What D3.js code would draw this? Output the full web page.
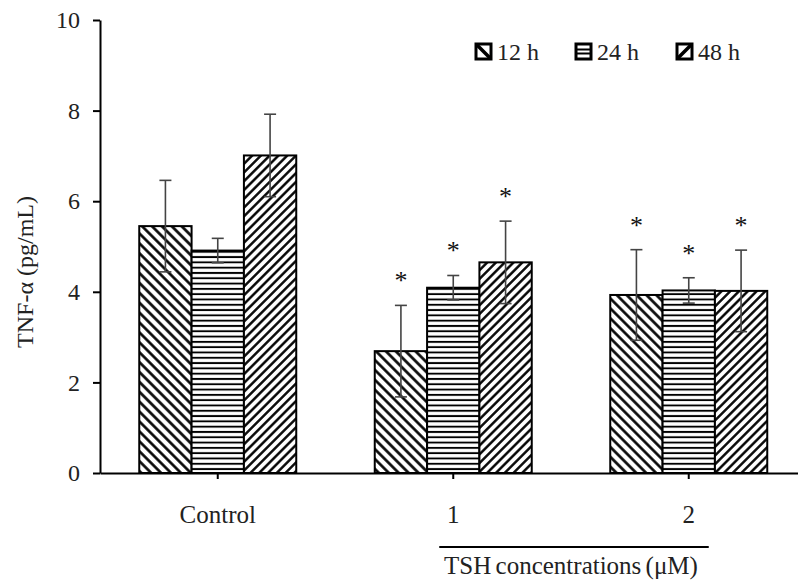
<!DOCTYPE html>
<html lang="en">
<head>
<meta charset="utf-8">
<title>TNF-alpha bar chart</title>
<script src="https://d3js.org/d3.v7.min.js"></script>
<style>
  body { margin: 0; background: #fff; }
  text { font-family: 'Liberation Serif', 'Times New Roman', serif; fill: #222; }
</style>
</head>
<body>
<script>
// data
var categories = ["Control", "1", "2"];
var seriesNames = ["12 h", "24 h", "48 h"];
var mean12 = [5.45, 2.69, 3.93];
var mean24 = [4.91, 4.09, 4.03];
var mean48 = [7.01, 4.65, 4.02];
var sd12 = [1.01, 1.01, 1.0];
var sd24 = [0.27, 0.27, 0.28];
var sd48 = [0.91, 0.91, 0.9];
var sig12 = [false, true, true];
var sig24 = [false, true, true];
var sig48 = [false, true, true];
var yTicks = [0, 2, 4, 6, 8, 10];

var w = 798, h = 580;
var plotLeft = 100, plotBottom = 473, plotTop = 20;

var svg = d3.select("body").append("svg")
  .attr("width", w).attr("height", h);

// hatch patterns
var defs = svg.append("defs");
function hatch(id, size, angle, sw) {
  var p = defs.append("pattern")
    .attr("id", id)
    .attr("patternUnits", "userSpaceOnUse")
    .attr("width", size).attr("height", size)
    .attr("patternTransform", "rotate(" + angle + ")");
  p.append("rect").attr("width", size).attr("height", size).attr("fill", "#fff");
  p.append("line").attr("x1", 0).attr("y1", size / 2).attr("x2", size).attr("y2", size / 2)
    .attr("stroke", "#000").attr("stroke-width", sw);
}
hatch("p12", 7, 45, 2.6);
hatch("p24", 5.3, 0, 1.9);
hatch("p48", 6.2, -45, 2.4);
var fills = ["url(#p12)", "url(#p24)", "url(#p48)"];

var rows = [];
categories.forEach(function(c, i) {
  rows.push({cat: c, s: 0, m: mean12[i], sd: sd12[i], sig: sig12[i]});
  rows.push({cat: c, s: 1, m: mean24[i], sd: sd24[i], sig: sig24[i]});
  rows.push({cat: c, s: 2, m: mean48[i], sd: sd48[i], sig: sig48[i]});
});

var x = d3.scaleBand().domain(categories)
  .range([plotLeft, 806.5]).paddingInner(1 / 3).paddingOuter(1 / 6);
var xs = d3.scaleBand().domain([0, 1, 2]).range([0, x.bandwidth()]);
var y = d3.scaleLinear().domain([0, 10]).range([plotBottom, plotTop]);

// bars
svg.append("g").selectAll("rect")
  .data(rows).enter().append("rect")
  .attr("x", function(d) { return x(d.cat) + xs(d.s); })
  .attr("y", function(d) { return y(d.m); })
  .attr("width", xs.bandwidth())
  .attr("height", function(d) { return y(0) - y(d.m); })
  .attr("fill", function(d) { return fills[d.s]; })
  .attr("stroke", "#000")
  .attr("stroke-width", 2);

// error bars + asterisks
var eb = svg.append("g").attr("stroke", "#444").attr("stroke-width", 1.6);
rows.forEach(function(d) {
  var cx = x(d.cat) + xs(d.s) + xs.bandwidth() / 2;
  eb.append("line").attr("x1", cx).attr("x2", cx)
    .attr("y1", y(d.m - d.sd)).attr("y2", y(d.m + d.sd));
  [d.m - d.sd, d.m + d.sd].forEach(function(v) {
    eb.append("line").attr("x1", cx - 6).attr("x2", cx + 6)
      .attr("y1", y(v)).attr("y2", y(v));
  });
  if (d.sig) {
    svg.append("text")
      .attr("x", cx).attr("y", y(d.m + d.sd + 0.63) + 12.5)
      .attr("text-anchor", "middle")
      .style("font-size", "26px")
      .style("fill", "#111")
      .text("*");
  }
});

// y axis
var yAxis = svg.append("g")
  .attr("transform", "translate(" + plotLeft + ",0)")
  .call(d3.axisLeft(y).tickValues(yTicks).tickSize(7).tickSizeOuter(0).tickPadding(13));
yAxis.selectAll("path, line").attr("stroke", "#000").attr("stroke-width", 2);
yAxis.selectAll("text").style("font-size", "24px").style("font-family", "'Liberation Serif', serif").attr("fill", "#222");

// x axis
var xAxis = svg.append("g")
  .attr("transform", "translate(0," + plotBottom + ")")
  .call(d3.axisBottom(x).tickSize(6).tickSizeOuter(0).tickPadding(26));
xAxis.selectAll("path, line").attr("stroke", "#000").attr("stroke-width", 2);
xAxis.selectAll("text").style("font-size", "25px").style("font-family", "'Liberation Serif', serif").attr("fill", "#222");

// y title
svg.append("text")
  .attr("transform", "translate(33,272) rotate(-90)")
  .attr("text-anchor", "middle")
  .style("font-size", "24px")
  .text("TNF-\u03b1 (pg/mL)");

// TSH bracket
var c1 = x("1") + x.bandwidth() / 2, c2 = x("2") + x.bandwidth() / 2;
svg.append("line")
  .attr("x1", c1 - 14).attr("x2", c2 + 20)
  .attr("y1", 547).attr("y2", 547)
  .attr("stroke", "#000").attr("stroke-width", 2);
svg.append("text")
  .attr("x", (c1 + c2) / 2).attr("y", 574)
  .attr("text-anchor", "middle")
  .style("font-size", "25px")
  .style("word-spacing", "-2px")
  .text("TSH concentrations (\u03bcM)");

// legend
var legX = [476, 576, 677];
var leg = svg.append("g");
seriesNames.forEach(function(name, i) {
  var g = leg.append("g").attr("transform", "translate(" + legX[i] + ",44)");
  var cid = "lc" + i;
  defs.append("clipPath").attr("id", cid)
    .append("rect").attr("width", 15).attr("height", 15);
  g.append("rect").attr("width", 15).attr("height", 15).attr("fill", "#fff");
  var inner = g.append("g").attr("clip-path", "url(#" + cid + ")")
    .attr("stroke", "#000").attr("stroke-width", 3.5);
  if (i === 0) inner.append("line").attr("x1", 0).attr("y1", 0).attr("x2", 15).attr("y2", 15);
  if (i === 1) {
    inner.append("line").attr("x1", 0).attr("y1", 5.5).attr("x2", 15).attr("y2", 5.5).attr("stroke-width", 2);
    inner.append("line").attr("x1", 0).attr("y1", 9.5).attr("x2", 15).attr("y2", 9.5).attr("stroke-width", 2);
  }
  if (i === 2) inner.append("line").attr("x1", 0).attr("y1", 15).attr("x2", 15).attr("y2", 0);
  g.append("rect").attr("width", 15).attr("height", 15)
    .attr("fill", "none").attr("stroke", "#000").attr("stroke-width", 3);
  g.append("text").attr("x", 21).attr("y", 16)
    .style("font-size", "24px")
    .text(name);
});
</script>
</body>
</html>
